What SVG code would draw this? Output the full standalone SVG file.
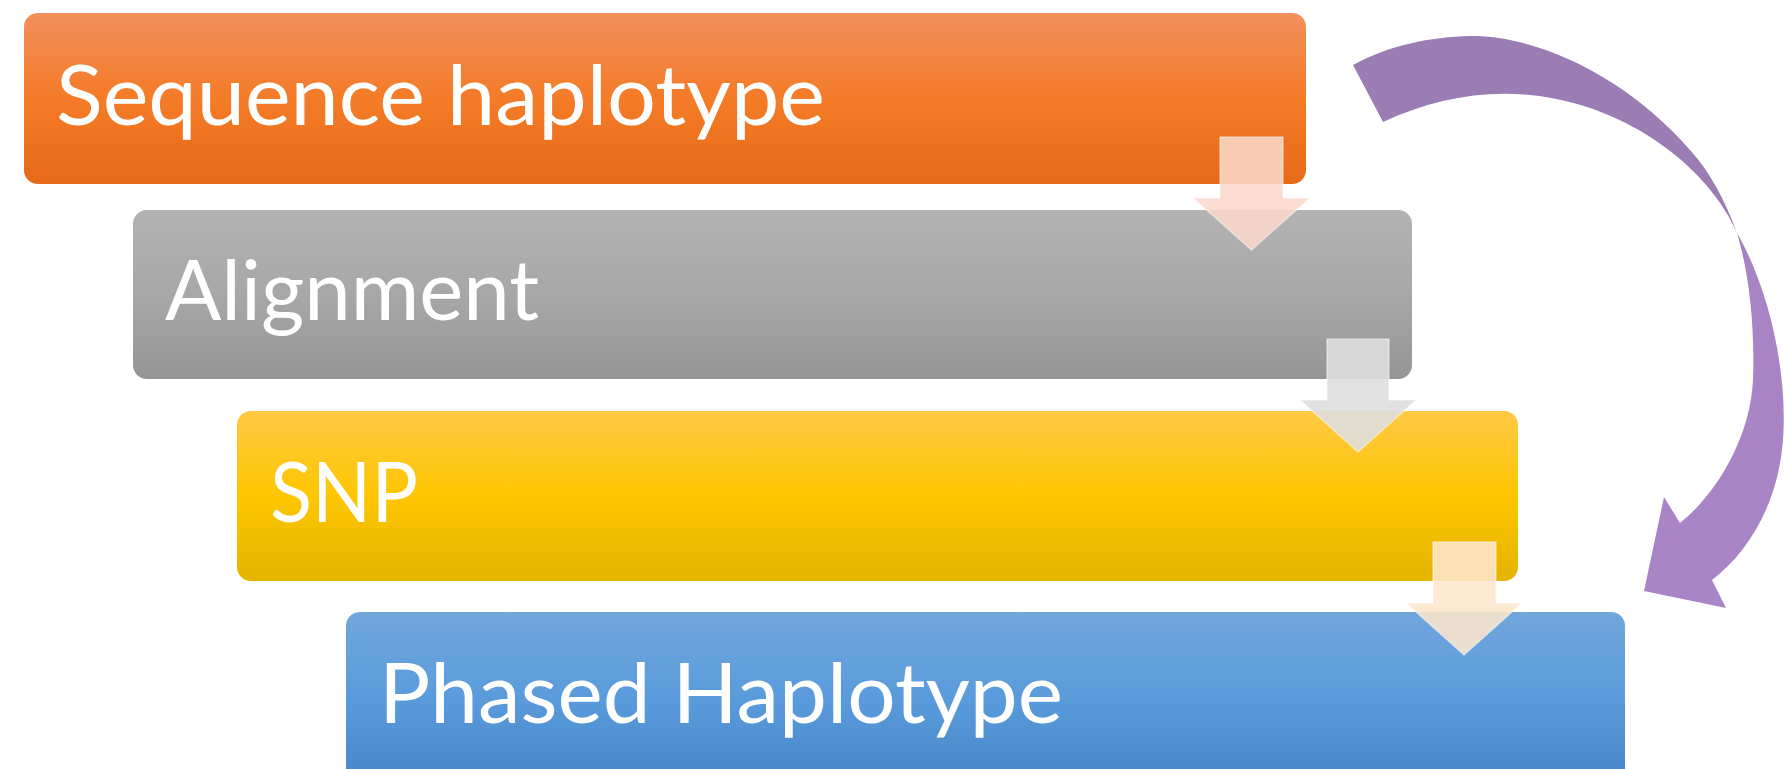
<svg xmlns="http://www.w3.org/2000/svg" width="1784" height="769" viewBox="0 0 1784 769">
  <style>
    .lbl { font-family: Lato, "Open Sans", "Liberation Sans", sans-serif; font-size: 84px; fill: #FFFFFF; }
    .darrow { stroke: #FFFFFF; stroke-opacity: 0.45; stroke-width: 1.5; }
  </style>
  <defs>
    <linearGradient id="gOrange" x1="0" y1="0" x2="0" y2="1">
      <stop offset="0" stop-color="#F18F5C"/>
      <stop offset="0.5" stop-color="#F47B27"/>
      <stop offset="1" stop-color="#E66A18"/>
    </linearGradient>
    <linearGradient id="gGray" x1="0" y1="0" x2="0" y2="1">
      <stop offset="0" stop-color="#B3B3B3"/>
      <stop offset="0.5" stop-color="#A7A7A7"/>
      <stop offset="1" stop-color="#959595"/>
    </linearGradient>
    <linearGradient id="gYellow" x1="0" y1="0" x2="0" y2="1">
      <stop offset="0" stop-color="#FFC845"/>
      <stop offset="0.5" stop-color="#FEC600"/>
      <stop offset="1" stop-color="#E5B400"/>
    </linearGradient>
    <linearGradient id="gBlue" x1="0" y1="0" x2="0" y2="1">
      <stop offset="0" stop-color="#71A7DB"/>
      <stop offset="0.5" stop-color="#5A9BDC"/>
      <stop offset="1" stop-color="#4686C8"/>
    </linearGradient>
    <linearGradient id="gPurple" gradientUnits="userSpaceOnUse" x1="0" y1="37" x2="0" y2="608">
      <stop offset="0.3" stop-color="#9B7DB4"/>
      <stop offset="0.4" stop-color="#A884C5"/>
      <stop offset="1" stop-color="#A984C6"/>
    </linearGradient>
  </defs>

  <g id="node-sequence-haplotype">
    <rect x="24" y="13" width="1282" height="171" rx="14" fill="url(#gOrange)"/>
    <text class="lbl" x="56" y="125" textLength="769" lengthAdjust="spacingAndGlyphs">Sequence haplotype</text>
  </g>
  <g id="node-alignment">
    <rect x="133" y="210" width="1279" height="169" rx="14" fill="url(#gGray)"/>
    <text class="lbl" x="165" y="320" textLength="374" lengthAdjust="spacingAndGlyphs">Alignment</text>
  </g>
  <g id="node-snp">
    <rect x="237" y="411" width="1281" height="170" rx="14" fill="url(#gYellow)"/>
    <text class="lbl" x="270" y="522" textLength="148" lengthAdjust="spacingAndGlyphs">SNP</text>
  </g>
  <g id="node-phased-haplotype">
    <rect x="346" y="612" width="1279" height="172" rx="14" fill="url(#gBlue)"/>
    <text class="lbl" x="379" y="723" textLength="684" lengthAdjust="spacingAndGlyphs">Phased Haplotype</text>
  </g>

  <g id="connectors">
    <path class="darrow" d="M1220,137 H1283 V198 H1310 L1251.5,250 L1193,198 H1220 Z" fill="#F9D8CA" fill-opacity="0.88"/>
    <path class="darrow" d="M1327,339 H1389 V400 H1416 L1358,452 L1300,400 H1327 Z" fill="#DEDEDE" fill-opacity="0.9"/>
    <path class="darrow" d="M1433,542 H1496 V603 H1522 L1464,655 L1406,603 H1433 Z" fill="#FDE6CC" fill-opacity="0.88"/>
    <path id="loop-arrow" fill="url(#gPurple)" d="M1353,65 C1390,45 1430,37 1470,36 C1540,35 1630,80 1690,150 C1710,172 1725,200 1737,233 C1770,290 1790,380 1782,450 C1775,510 1745,555 1712,580 L1726,608 L1644,591 L1664,497 L1680,523 C1715,495 1750,440 1753,380 C1755,320 1748,270 1737,233 C1710,170 1630,105 1530,95 C1480,90 1430,100 1383,122 Z"/>
  </g>
</svg>
